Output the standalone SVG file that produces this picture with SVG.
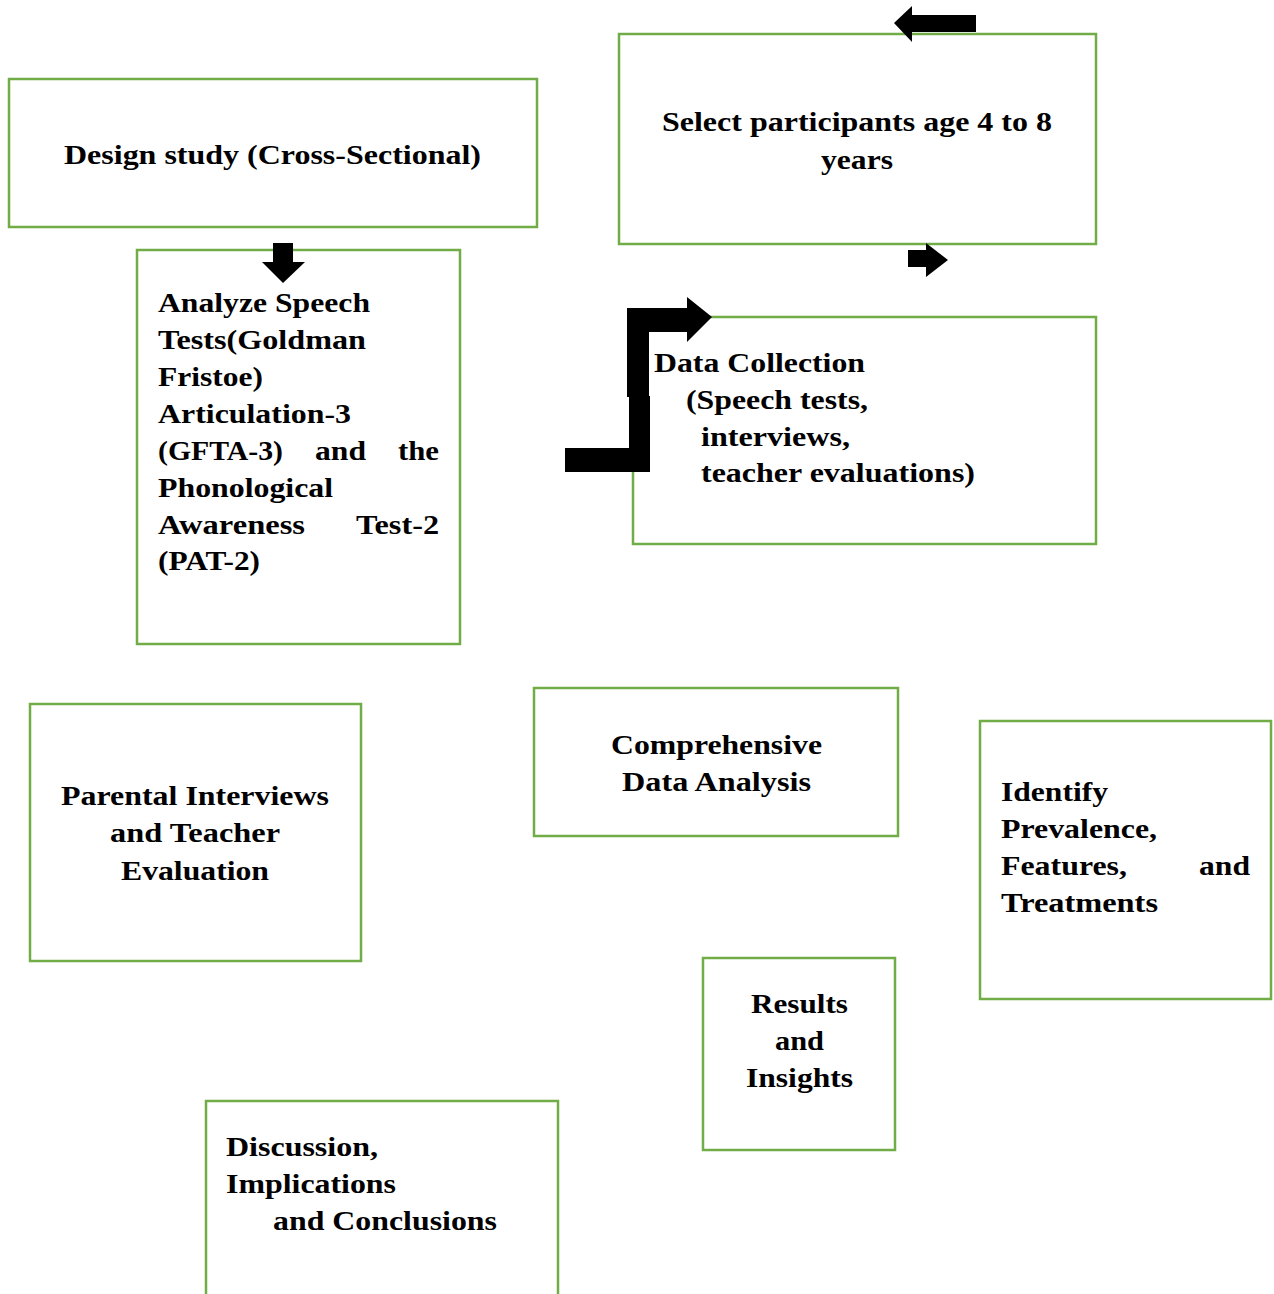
<svg xmlns="http://www.w3.org/2000/svg" width="1274" height="1294" viewBox="0 0 1274 1294">
<style>
.box{fill:#fff;stroke:#70AD47;stroke-width:2.5}
.t{font-family:"Liberation Serif","Times New Roman",serif;font-weight:bold;font-size:28px;fill:#000}
.arr{fill:#000}
</style>
<rect width="1274" height="1294" fill="#fff"/>
<g id="design"><rect class="box" x="9" y="79" width="528" height="148"/>
<text class="t" x="64" y="164" textLength="417" lengthAdjust="spacingAndGlyphs">Design study (Cross-Sectional)</text></g>
<g id="select"><rect class="box" x="619" y="34" width="477" height="210"/>
<text class="t" x="662" y="131" textLength="390" lengthAdjust="spacingAndGlyphs">Select participants age 4 to 8</text>
<text class="t" x="821" y="169" textLength="72" lengthAdjust="spacingAndGlyphs">years</text></g>
<g id="analyze"><rect class="box" x="137" y="250" width="323" height="394"/>
<text class="t" x="158" y="312" textLength="212" lengthAdjust="spacingAndGlyphs">Analyze Speech</text>
<text class="t" x="158" y="349" textLength="208" lengthAdjust="spacingAndGlyphs">Tests(Goldman</text>
<text class="t" x="158" y="386" textLength="105" lengthAdjust="spacingAndGlyphs">Fristoe)</text>
<text class="t" x="158" y="423" textLength="193" lengthAdjust="spacingAndGlyphs">Articulation-3</text>
<text class="t" x="158" y="460" textLength="125" lengthAdjust="spacingAndGlyphs">(GFTA-3)</text><text class="t" x="315" y="460" textLength="51" lengthAdjust="spacingAndGlyphs">and</text><text class="t" x="398" y="460" textLength="41" lengthAdjust="spacingAndGlyphs">the</text>
<text class="t" x="158" y="497" textLength="175" lengthAdjust="spacingAndGlyphs">Phonological</text>
<text class="t" x="158" y="534" textLength="147" lengthAdjust="spacingAndGlyphs">Awareness</text><text class="t" x="356" y="534" textLength="83" lengthAdjust="spacingAndGlyphs">Test-2</text>
<text class="t" x="158" y="570" textLength="102" lengthAdjust="spacingAndGlyphs">(PAT-2)</text></g>
<g id="datacollection"><rect class="box" x="633" y="317" width="463" height="227"/>
<text class="t" x="654" y="372" textLength="211" lengthAdjust="spacingAndGlyphs">Data Collection</text>
<text class="t" x="686" y="409" textLength="182" lengthAdjust="spacingAndGlyphs">(Speech tests,</text>
<text class="t" x="701" y="446" textLength="149" lengthAdjust="spacingAndGlyphs">interviews,</text>
<text class="t" x="701" y="482" textLength="274" lengthAdjust="spacingAndGlyphs">teacher evaluations)</text></g>
<g id="parental"><rect class="box" x="30" y="704" width="331" height="257"/>
<text class="t" x="61" y="805" textLength="268" lengthAdjust="spacingAndGlyphs">Parental Interviews</text>
<text class="t" x="110" y="842" textLength="170" lengthAdjust="spacingAndGlyphs">and Teacher</text>
<text class="t" x="121" y="880" textLength="148" lengthAdjust="spacingAndGlyphs">Evaluation</text></g>
<g id="comprehensive"><rect class="box" x="534" y="688" width="364" height="148"/>
<text class="t" x="611" y="754" textLength="211" lengthAdjust="spacingAndGlyphs">Comprehensive</text>
<text class="t" x="622" y="791" textLength="189" lengthAdjust="spacingAndGlyphs">Data Analysis</text></g>
<g id="identify"><rect class="box" x="980" y="721" width="291" height="278"/>
<text class="t" x="1001" y="801" textLength="107" lengthAdjust="spacingAndGlyphs">Identify</text>
<text class="t" x="1001" y="838" textLength="156" lengthAdjust="spacingAndGlyphs">Prevalence,</text>
<text class="t" x="1001" y="875" textLength="126" lengthAdjust="spacingAndGlyphs">Features,</text><text class="t" x="1199" y="875" textLength="51" lengthAdjust="spacingAndGlyphs">and</text>
<text class="t" x="1001" y="912" textLength="157" lengthAdjust="spacingAndGlyphs">Treatments</text></g>
<g id="results"><rect class="box" x="703" y="958" width="192" height="192"/>
<text class="t" x="751" y="1013" textLength="97" lengthAdjust="spacingAndGlyphs">Results</text>
<text class="t" x="775" y="1050" textLength="49" lengthAdjust="spacingAndGlyphs">and</text>
<text class="t" x="746" y="1087" textLength="107" lengthAdjust="spacingAndGlyphs">Insights</text></g>
<g id="discussion"><rect class="box" x="206" y="1101" width="352" height="260"/>
<text class="t" x="226" y="1156" textLength="152" lengthAdjust="spacingAndGlyphs">Discussion,</text>
<text class="t" x="226" y="1193" textLength="170" lengthAdjust="spacingAndGlyphs">Implications</text>
<text class="t" x="273" y="1230" textLength="224" lengthAdjust="spacingAndGlyphs">and Conclusions</text></g>
<g id="connectors">
<polygon class="arr" points="976,15 912,15 912,6 894,23 912,42 912,32 976,32"/>
<polygon class="arr" points="908,250 926,250 926,243 948,260 926,277 926,267 908,267"/>
<polygon class="arr" points="273,243 293,243 293,262 305,262 283,283 262,262 273,262"/>
<polygon class="arr" points="565,448 629,448 629,396 650,396 650,472 565,472"/>
<polygon class="arr" points="627,397 627,308 687,308 687,297 712,317 687,342 687,332 649,332 649,397"/>
</g>
</svg>
